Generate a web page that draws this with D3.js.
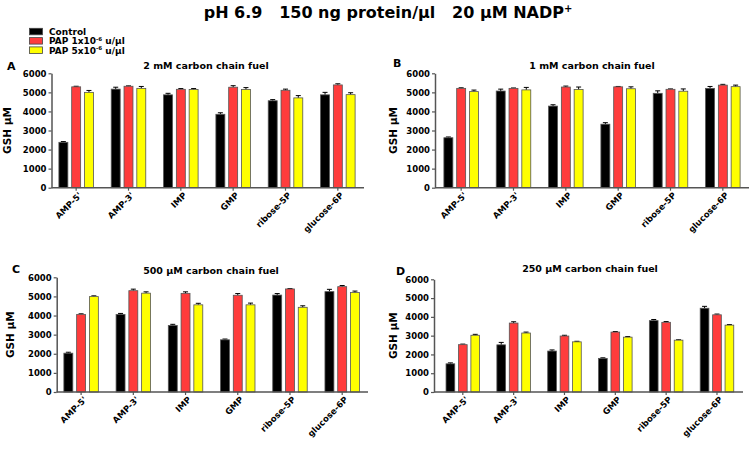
<!DOCTYPE html>
<html>
<head>
<meta charset="utf-8">
<script src="https://cdn.jsdelivr.net/npm/d3@7"></script>
<style>
  body { margin: 0; background: #fff; }
  svg { display: block; font-family: "DejaVu Sans", sans-serif; font-weight: bold; }
</style>
</head>
<body>
<svg id="chart" width="750" height="451"></svg>
<script>
// categories and series
var categories = ["AMP-5'", "AMP-3'", "IMP", "GMP", "ribose-5P", "glucose-6P"];
var seriesNames = ["Control", "PAP 1x10", "PAP 5x10"];
var seriesColors = ["#000000", "#ff3c3c", "#ffff00"];
var yTicks = [0, 1000, 2000, 3000, 4000, 5000, 6000];

// GSH values (uM), one row per series: control, PAP 1e-6, PAP 5e-6
var valuesA = [
  [2380, 5170, 4870, 3850, 4560, 4870],
  [5290, 5320, 5160, 5270, 5110, 5390],
  [5000, 5210, 5150, 5150, 4710, 4880]
];
var errorsA = [
  [40, 100, 80, 80, 60, 130],
  [30, 20, 40, 80, 60, 60],
  [100, 100, 50, 100, 120, 100]
];
var valuesB = [
  [2620, 5070, 4280, 3330, 4950, 5210],
  [5210, 5210, 5280, 5290, 5160, 5380],
  [5040, 5130, 5150, 5190, 5060, 5300]
];
var errorsB = [
  [40, 100, 70, 80, 130, 100],
  [30, 20, 50, 20, 20, 40],
  [80, 130, 130, 100, 120, 80]
];
var valuesC = [
  [2030, 4060, 3480, 2730, 5070, 5250],
  [4060, 5300, 5160, 5060, 5390, 5510],
  [4990, 5170, 4560, 4560, 4430, 5200]
];
var errorsC = [
  [50, 50, 60, 40, 80, 120],
  [30, 80, 80, 90, 20, 60],
  [40, 70, 80, 90, 80, 80]
];
var valuesD = [
  [1500, 2510, 2180, 1790, 3800, 4460],
  [2520, 3670, 2980, 3190, 3710, 4110],
  [3020, 3140, 2670, 2920, 2760, 3560]
];
var errorsD = [
  [50, 130, 60, 30, 60, 100],
  [30, 70, 40, 30, 40, 40],
  [50, 50, 30, 30, 20, 30]
];

// panel layout
var panels = [
  { letter: "A", title: "2 mM carbon chain fuel", values: valuesA, errors: errorsA,
    axisX: 51.5, bandL: 50, bandR: 364, axisEnd: 364, top: 73.3, bottom: 187.7,
    titleX: 206, titleY: 69, letterX: 7, letterY: 70, labelX: 10.5 },
  { letter: "B", title: "1 mM carbon chain fuel", values: valuesB, errors: errorsB,
    axisX: 435, bandL: 435, bandR: 749, axisEnd: 749, top: 73.3, bottom: 187.7,
    titleX: 592, titleY: 69, letterX: 393, letterY: 67, labelX: 397 },
  { letter: "C", title: "500 \u03bcM carbon chain fuel", values: valuesC, errors: errorsC,
    axisX: 56.7, bandL: 55, bandR: 368.3, axisEnd: 368, top: 277.3, bottom: 392,
    titleX: 211, titleY: 274, letterX: 12, letterY: 273, labelX: 13.5 },
  { letter: "D", title: "250 \u03bcM carbon chain fuel", values: valuesD, errors: errorsD,
    axisX: 434, bandL: 437.4, bandR: 742.4, axisEnd: 743, top: 279.3, bottom: 392,
    titleX: 590, titleY: 272, letterX: 396, letterY: 275, labelX: 397 }
];

var svg = d3.select("#chart");
var axisColor = "#555";

// main title
var title = svg.append("text")
  .attr("x", 388)
  .attr("y", 18)
  .attr("text-anchor", "middle")
  .attr("font-size", "16px")
  .style("white-space", "pre");
title.append("tspan").text("pH 6.9   150 ng protein/\u03bcl   20 \u03bcM NADP");
title.append("tspan").attr("font-size", "10px").attr("dy", -6).text("+");

// legend
var legend = svg.append("g");
seriesNames.forEach(function(name, i) {
  var ly = 28.3 + i * 9.3;
  legend.append("rect")
    .attr("x", 29.5).attr("y", ly)
    .attr("width", 13).attr("height", 6.5)
    .attr("fill", seriesColors[i])
    .attr("stroke", "#444").attr("stroke-width", 0.8);
  var t = legend.append("text")
    .attr("x", 49).attr("y", ly + 6.6)
    .attr("font-size", "9px");
  t.append("tspan").text(name);
  if (i > 0) {
    t.append("tspan").attr("font-size", "5.5px").attr("dy", -3.3).text("-6");
    t.append("tspan").attr("dy", 3.3).text(" u/\u03bcl");
  }
});

panels.forEach(function(p) {
  var g = svg.append("g");

  var x0 = d3.scaleBand()
    .domain(categories)
    .range([p.bandL, p.bandR]);
  var bw = x0.bandwidth();
  var x1 = d3.scaleBand()
    .domain([0, 1, 2])
    .range([bw * 0.17, bw * 0.83])
    .paddingInner(0.3);
  var y = d3.scaleLinear()
    .domain([0, 6000])
    .range([p.bottom, p.top]);

  // bars
  var groups = g.selectAll(".grp")
    .data(categories)
    .enter().append("g")
    .attr("transform", function(d) { return "translate(" + x0(d) + ",0)"; });

  groups.each(function(cat, ci) {
    var gg = d3.select(this);
    [0, 1, 2].forEach(function(si) {
      var v = p.values[si][ci];
      var e = p.errors[si][ci];
      var bx = x1(si);
      var cx = bx + x1.bandwidth() / 2;
      // error bar (upper)
      gg.append("line")
        .attr("x1", cx).attr("x2", cx)
        .attr("y1", y(v)).attr("y2", y(v + e))
        .attr("stroke", "#000").attr("stroke-width", 1);
      gg.append("line")
        .attr("x1", cx - 2.5).attr("x2", cx + 2.5)
        .attr("y1", y(v + e)).attr("y2", y(v + e))
        .attr("stroke", "#000").attr("stroke-width", 1);
      gg.append("rect")
        .attr("x", bx)
        .attr("y", y(v))
        .attr("width", x1.bandwidth())
        .attr("height", p.bottom - y(v))
        .attr("fill", seriesColors[si])
        .attr("stroke", "#555")
        .attr("stroke-width", 0.8);
    });
  });

  // y axis
  var yAxis = g.append("g")
    .attr("transform", "translate(" + p.axisX + ",0)")
    .call(d3.axisLeft(y).tickValues(yTicks).tickFormat(d3.format("d"))
      .tickSize(3).tickSizeOuter(0).tickPadding(2));
  yAxis.select(".domain").attr("stroke", axisColor).attr("stroke-width", 1.5);
  yAxis.selectAll(".tick line").attr("stroke", axisColor).attr("stroke-width", 1.2);
  yAxis.selectAll("text")
    .attr("font-size", "8.5px")
    .attr("font-family", "DejaVu Sans, sans-serif")
    .attr("font-weight", "bold")
    .attr("fill", "#000");

  // x axis
  var xAxis = g.append("g")
    .attr("transform", "translate(0," + p.bottom + ")")
    .call(d3.axisBottom(x0).tickSize(3).tickSizeOuter(0));
  xAxis.select(".domain").remove();
  xAxis.selectAll(".tick line").attr("stroke", axisColor).attr("stroke-width", 1.2);
  xAxis.selectAll("text")
    .attr("font-size", "8.5px")
    .attr("font-family", "DejaVu Sans, sans-serif")
    .attr("font-weight", "bold")
    .attr("fill", "#000")
    .attr("x", 0).attr("y", 0).attr("dy", "0.7em")
    .attr("transform", "translate(2,4) rotate(-45)")
    .style("text-anchor", "end");
  g.append("line")
    .attr("x1", p.axisX).attr("x2", p.axisEnd)
    .attr("y1", p.bottom).attr("y2", p.bottom)
    .attr("stroke", axisColor).attr("stroke-width", 1.5);

  // y label
  g.append("text")
    .attr("transform", "translate(" + p.labelX + "," + ((p.top + p.bottom) / 2) + ") rotate(-90)")
    .attr("text-anchor", "middle")
    .attr("font-size", "10.5px")
    .text("GSH \u03bcM");

  // panel title and letter
  g.append("text")
    .attr("x", p.titleX).attr("y", p.titleY)
    .attr("text-anchor", "middle")
    .attr("font-size", "9.5px")
    .text(p.title);
  g.append("text")
    .attr("x", p.letterX).attr("y", p.letterY)
    .attr("font-size", "11px")
    .text(p.letter);
});
</script>
</body>
</html>
